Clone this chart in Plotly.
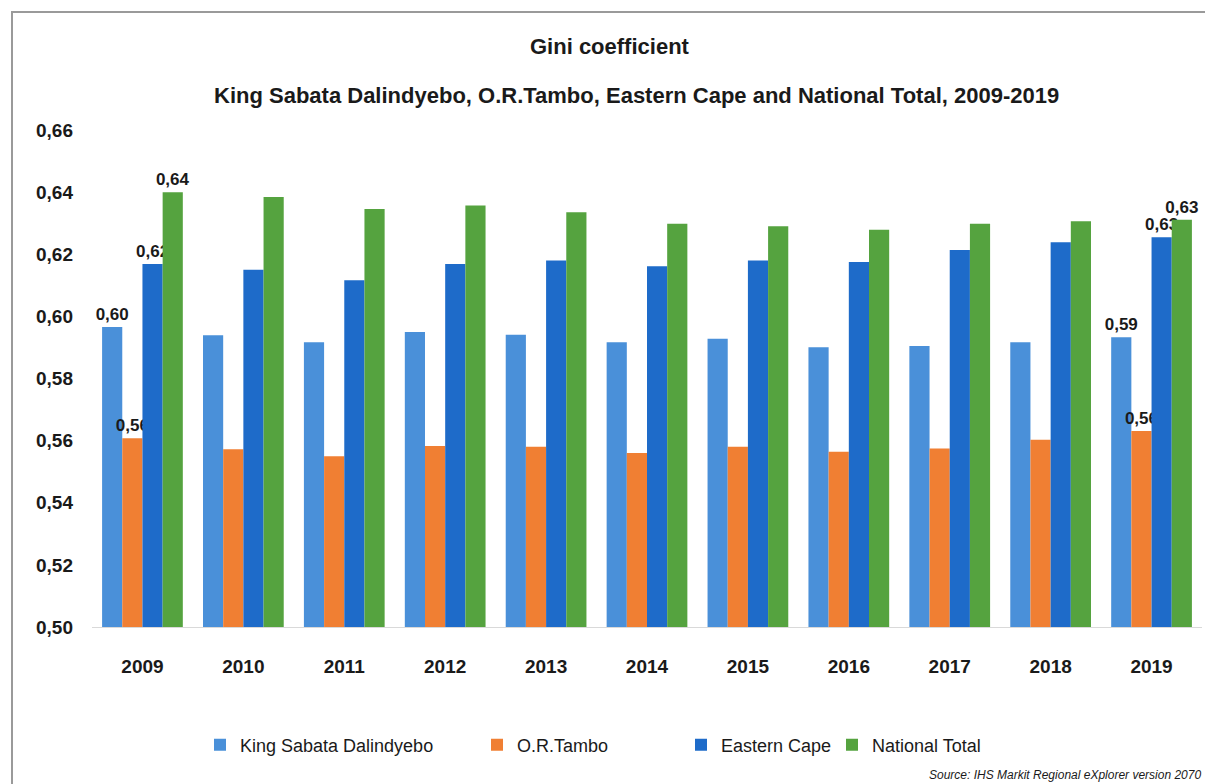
import plotly.graph_objects as go

# Gini coefficient by area, 2009-2019
years = ["2009", "2010", "2011", "2012", "2013", "2014", "2015", "2016", "2017", "2018", "2019"]
king_sabata = [0.5966, 0.5939, 0.5917, 0.5950, 0.5941, 0.5917, 0.5928, 0.5901, 0.5905, 0.5917, 0.5933]
or_tambo = [0.5608, 0.5572, 0.5550, 0.5583, 0.5580, 0.5560, 0.5580, 0.5564, 0.5575, 0.5603, 0.5631]
eastern_cape = [0.6169, 0.6150, 0.6116, 0.6169, 0.6180, 0.6161, 0.6180, 0.6175, 0.6214, 0.6239, 0.6255]
national_total = [0.6400, 0.6384, 0.6346, 0.6357, 0.6335, 0.6298, 0.6290, 0.6279, 0.6298, 0.6306, 0.6311]
y_ticks = [0.50, 0.52, 0.54, 0.56, 0.58, 0.60, 0.62, 0.64, 0.66]

series = [
    ("King Sabata Dalindyebo", king_sabata, "#4a90d9", "legend"),
    ("O.R.Tambo", or_tambo, "#f07f33", "legend2"),
    ("Eastern Cape", eastern_cape, "#1e6bc9", "legend3"),
    ("National Total", national_total, "#55a33f", "legend4"),
]

FONT = "Liberation Sans Narrow, Arial Narrow, Liberation Sans, sans-serif"

# plot-area geometry in pixels (used to place paper-referenced items)
W, H = 1205, 784
ML, MR, MT, MB = 92, 3, 130, 157
PW, PH = W - ML - MR, H - MT - MB


def px(x):
    return (x - ML) / PW


def py(y):
    return (H - MB - y) / PH


fig = go.Figure()
for name, vals, color, leg in series:
    # value labels only on the first and last year
    tmpl = ["%{y:.2f}" if i in (0, len(vals) - 1) else "" for i in range(len(vals))]
    fig.add_trace(go.Bar(
        x=years, y=vals, name=name, legend=leg,
        marker=dict(color=color, line=dict(width=0)),
        texttemplate=tmpl, textposition="outside", constraintext="none",
        textfont=dict(family=FONT, size=17, color="#1a1a1a", weight="bold"),
        cliponaxis=False,
    ))

legend_common = dict(
    orientation="h", yanchor="middle", xanchor="left",
    font=dict(family=FONT, size=18, color="#1a1a1a"),
    bgcolor="rgba(0,0,0,0)", borderwidth=0,
)

fig.update_layout(
    width=W, height=H,
    margin=dict(l=ML, r=MR, t=MT, b=MB),
    paper_bgcolor="white", plot_bgcolor="white",
    separators=",.",
    barmode="group", bargap=0.2, bargroupgap=0,
    showlegend=True,
    legend=dict(x=px(200), y=py(745), **legend_common),
    legend2=dict(x=px(477), y=py(745), **legend_common),
    legend3=dict(x=px(681), y=py(745), **legend_common),
    legend4=dict(x=px(832), y=py(745), **legend_common),
    xaxis=dict(
        type="category", showgrid=False, zeroline=False,
        showline=True, linecolor="#d9d9d9", linewidth=1,
        ticks="", ticklabelstandoff=22,
        tickfont=dict(family=FONT, size=19, color="#1a1a1a", weight="bold"),
    ),
    yaxis=dict(
        range=[0.50, 0.66], tickvals=y_ticks, tickformat=".2f",
        showgrid=False, zeroline=False, showline=False,
        ticks="", ticklabelstandoff=18,
        tickfont=dict(family=FONT, size=19, color="#1a1a1a", weight="bold"),
    ),
    annotations=[
        dict(text="<b>Gini coefficient</b>", x=px(610), y=py(47),
             xref="paper", yref="paper", xanchor="center", yanchor="middle",
             showarrow=False, font=dict(family=FONT, size=22, color="#1a1a1a")),
        dict(text="<b>King Sabata Dalindyebo, O.R.Tambo, Eastern Cape and National Total, 2009-2019</b>",
             x=px(636), y=py(95), xref="paper", yref="paper",
             xanchor="center", yanchor="middle", showarrow=False,
             font=dict(family=FONT, size=22, color="#1a1a1a")),
        dict(text="<i>Source: IHS Markit Regional eXplorer version 2070</i>",
             x=px(1203), y=py(775), xref="paper", yref="paper",
             xanchor="right", yanchor="middle", showarrow=False,
             font=dict(family=FONT, size=12, color="#1a1a1a")),
    ],
    shapes=[
        dict(type="rect", xref="paper", yref="paper",
             x0=px(12), x1=px(1215), y0=py(800), y1=py(12),
             line=dict(color="#9a9a9a", width=2), fillcolor="rgba(0,0,0,0)",
             layer="below"),
    ],
)

fig.write_html("out.html")
